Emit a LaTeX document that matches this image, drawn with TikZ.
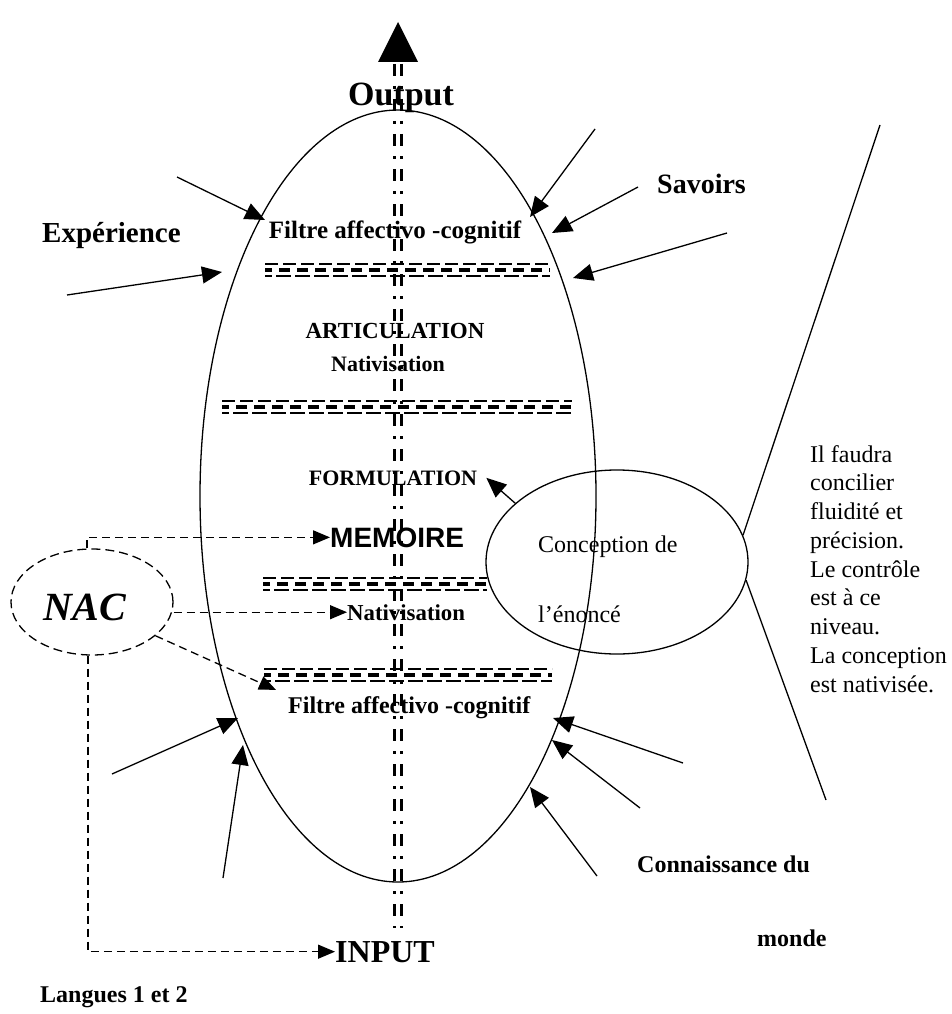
\documentclass[tikz,border=0pt]{standalone}
\usepackage{fontspec}
\setmainfont{Liberation Serif}
\newfontfamily\arialfont{Liberation Sans}
\usetikzlibrary{shapes.geometric,arrows.meta,calc}

% three stacked dashed rows forming a filter band: x-from, x-to, middle y
\newcommand\filterband[3]{%
  \draw[line width=2.2pt, dash pattern=on 13pt off 5pt] (#1,#3-6) -- (#2,#3-6);
  \draw[line width=3.6pt, dash pattern=on 11pt off 7pt, dash phase=4pt] (#1,#3) -- (#2,#3);
  \draw[line width=2.2pt, dash pattern=on 15pt off 4pt, dash phase=8pt] (#1,#3+6) -- (#2,#3+6);
}

\tikzset{
  arr/.style={line width=1.3pt, -{Triangle[length=20pt,width=17pt]}},
  dasharr/.style={line width=1.3pt, dash pattern=on 8pt off 5pt, -{Triangle[length=17pt,width=14pt]}},
  boldtxt/.style={inner sep=0pt, font=\bfseries\fontsize{#1}{#1}\selectfont},
  plaintxt/.style={inner sep=0pt, font=\fontsize{#1}{#1}\selectfont},
  channel/.style={line width=2.6pt, dash pattern=on 12pt off 10pt on 3pt off 10pt},
}

\begin{document}
\begin{tikzpicture}[x=1pt,y=-1pt]
\fill[white] (0,0) rectangle (951,1014);
\useasboundingbox (0,0) rectangle (951,1014);

% main ellipse and the two side ellipses
\node[ellipse, draw, line width=1.3pt, minimum width=396pt, minimum height=772pt] (mem) at (398,496) {};
\node[ellipse, draw, line width=1.3pt, minimum width=262pt, minimum height=184pt] (conc) at (617,562) {};
\node[ellipse, draw, line width=1.3pt, dash pattern=on 9pt off 5pt, minimum width=162pt, minimum height=106pt] (nac) at (92,602) {};

% texts
\node[boldtxt=34, anchor=base] (output) at (401,106) {Output};
\node[boldtxt=29, anchor=base west] (exp) at (42,242) {Expérience};
\node[boldtxt=28, anchor=base west] (sav) at (657,193) {Savoirs};
\node[boldtxt=25, anchor=base] (filtreh) at (395,238) {Filtre affectivo -cognitif};
\node[boldtxt=23, anchor=base] (artic) at (395,338) {ARTICULATION};
\node[boldtxt=22, anchor=base] (nath) at (388,371) {Nativisation};
\node[boldtxt=22, anchor=base] (form) at (393,485) {FORMULATION};
\node[inner sep=0pt, font=\arialfont\bfseries\fontsize{28}{28}\selectfont, anchor=base west] (memo) at (330,547) {MEMOIRE};
\node[boldtxt=22.8, anchor=base west] (natb) at (347,620) {Nativisation};
\node[boldtxt=24, anchor=base west] (filtreb) at (288,713) {Filtre affectivo -cognitif};
\node[boldtxt=32, anchor=base west] (input) at (335,962) {INPUT};
\node[boldtxt=24, anchor=base west] (lang) at (40,1002) {Langues 1 et 2};
\node[boldtxt=24, anchor=base west] (conn) at (637,872) {Connaissance du};
\node[boldtxt=24, anchor=base west] (monde) at (757,946) {monde};
\node[inner sep=0pt, font=\bfseries\itshape\fontsize{40}{40}\selectfont, anchor=base] (nactxt) at (85,620) {NAC};
\node[plaintxt=24, anchor=base west] (conc1) at (538,552) {Conception de};
\node[plaintxt=24, anchor=base west] (conc2) at (538,622) {l’énoncé};
\node[inner sep=0pt, font=\fontsize{24}{28.75}\selectfont, align=left, anchor=north west] (note) at (810,445)
  {Il faudra\\concilier\\fluidité et\\précision.\\Le contrôle\\est à ce\\niveau.\\La conception\\est nativisée.};

% filter bands
\filterband{265}{550}{270}
\filterband{222}{572}{407}
\filterband{263}{487}{584}
\filterband{264}{552}{675}

% vertical channel from INPUT to Output
\coordinate (chtop) at (398,64);
\coordinate (chbot) at (398,928);
\coordinate (tip) at (398,22);
\draw[channel] ([xshift=-3.5pt]chtop) -- ([xshift=-3.5pt]chbot);
\draw[channel] ([xshift=3.5pt]chtop) -- ([xshift=3.5pt]chbot);
\fill ($(chtop)+(-20,-2)$) -- ($(chtop)+(20,-2)$) -- (tip) -- cycle;

% influences on the upper part
\coordinate (a1s) at (177,177); \coordinate (a1e) at (265,220);
\coordinate (a2s) at (67,295);  \coordinate (a2e) at (222,272);
\coordinate (a3s) at (595,129); \coordinate (a3e) at (530,217);
\coordinate (a4s) at (638,187); \coordinate (a4e) at (552,233);
\coordinate (a5s) at (727,233); \coordinate (a5e) at (573,278);
\draw[arr] (a1s) -- (a1e);
\draw[arr] (a2s) -- (a2e);
\draw[arr] (a3s) -- (a3e);
\draw[arr] (a4s) -- (a4e);
\draw[arr] (a5s) -- (a5e);

% influences on the lower part
\coordinate (b1s) at (112,774); \coordinate (b1e) at (238,718);
\coordinate (b2s) at (223,878); \coordinate (b2e) at (243,745);
\coordinate (b3s) at (683,763); \coordinate (b3e) at (553,718);
\coordinate (b4s) at (640,808); \coordinate (b4e) at (552,740);
\coordinate (b5s) at (597,876); \coordinate (b5e) at (530,787);
\draw[arr] (b1s) -- (b1e);
\draw[arr] (b2s) -- (b2e);
\draw[arr] (b3s) -- (b3e);
\draw[arr] (b4s) -- (b4e);
\draw[arr] (b5s) -- (b5e);

% conception of the utterance
\draw[arr] (conc.150) -- ([xshift=9pt]form.east);
\coordinate (r1) at (880,125);
\coordinate (r2) at (826,800);
\draw[line width=1.3pt] (r1) -- (conc.12);
\draw[line width=1.3pt] (conc.-8) -- (r2);

% NAC links
\draw[dasharr] ([xshift=-5pt]nac.north) |- (memo.west);
\draw[dasharr] (nac.east |- natb.west) -- (natb.west);
\draw[dasharr] (nac.-28) -- ($(filtreb.north west)+(-12,-6)$);
\draw[dasharr] ([xshift=-4pt]nac.south) |- (input.west);
\end{tikzpicture}
\end{document}
